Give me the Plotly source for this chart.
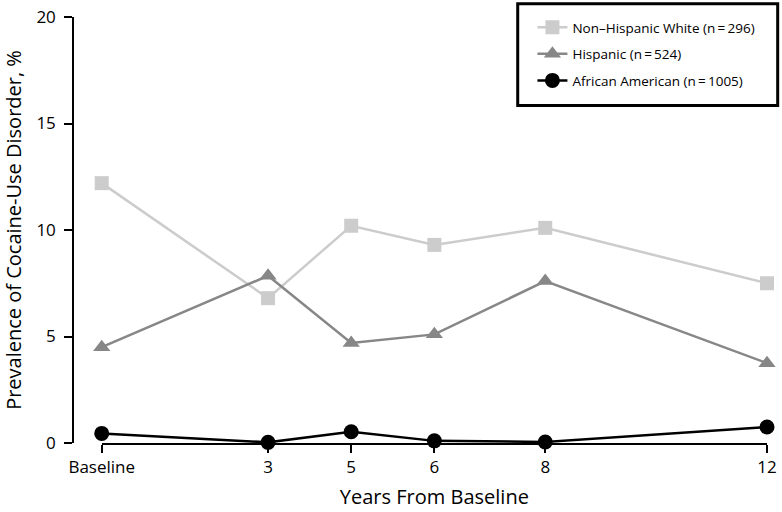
import plotly.graph_objects as go

# years from baseline (the "5" wave sits at 4.5 on the original scale)
years = [0, 3, 4.5, 6, 8, 12]
tick_labels = ["Baseline", "3", "5", "6", "8", "12"]

white = [12.2, 6.8, 10.2, 9.3, 10.1, 7.5]
hispanic = [4.5, 7.85, 4.7, 5.1, 7.6, 3.75]
african_american = [0.45, 0.03, 0.53, 0.1, 0.05, 0.75]

series = [
    ("Non\u2013Hispanic White (n\u2009=\u2009296)", white, "#cccccc", "square"),
    ("Hispanic (n\u2009=\u2009524)", hispanic, "#878787", "triangle-up"),
    ("African American (n\u2009=\u20091005)", african_american, "#000000", "circle"),
]

fig = go.Figure()
for i, (name, vals, color, symbol) in enumerate(series):
    fig.add_trace(go.Scatter(
        x=years, y=vals, name=name, mode="lines+markers",
        line=dict(color=color, width=2.5),
        marker=dict(symbol=symbol, size=15 if symbol != "square" else 14, color=color),
        legendgroup=f"g{i}",
        cliponaxis=False,
    ))

# legend frame drawn as a box so the padding matches the original
fig.add_shape(type="rect", xref="paper", yref="paper",
              x0=0.6408, x1=1.0154, y0=0.792, y1=1.031,
              line=dict(color="black", width=3), fillcolor="white", layer="below")

fig.update_layout(
    width=782, height=512,
    margin=dict(l=73, r=15, t=15, b=69),
    plot_bgcolor="white", paper_bgcolor="white",
    font=dict(family="Open Sans", size=17, color="black"),
    showlegend=True,
    legend=dict(
        x=0.662, y=1.0117, xanchor="left", yanchor="top",
        bgcolor="rgba(0,0,0,0)", borderwidth=0,
        font=dict(size=13.5), tracegroupgap=6,
        traceorder="grouped",
    ),
    xaxis=dict(
        domain=[0.0414, 1], range=[0, 12],
        tickvals=years, ticktext=tick_labels,
        showline=True, linecolor="black", linewidth=1.5,
        ticks="outside", ticklen=8, tickwidth=1.5, tickcolor="black",
        showgrid=False, zeroline=False, automargin=False,
        title=dict(text="Years From Baseline", font=dict(size=20), standoff=13),
    ),
    yaxis=dict(
        anchor="free", position=0, range=[0, 20],
        tickvals=[0, 5, 10, 15, 20],
        showline=True, linecolor="black", linewidth=1.5,
        ticks="outside", ticklen=8, tickwidth=1.5, tickcolor="black",
        ticklabelstandoff=5,
        showgrid=False, zeroline=False, automargin=False,
        title=dict(text="Prevalence of Cocaine-Use Disorder, %", font=dict(size=20), standoff=22),
    ),
)

# drop the default page margin so the figure fills the window
fig.write_html("out.html", config={"displayModeBar": False},
               post_script="document.body.style.margin='0';")
